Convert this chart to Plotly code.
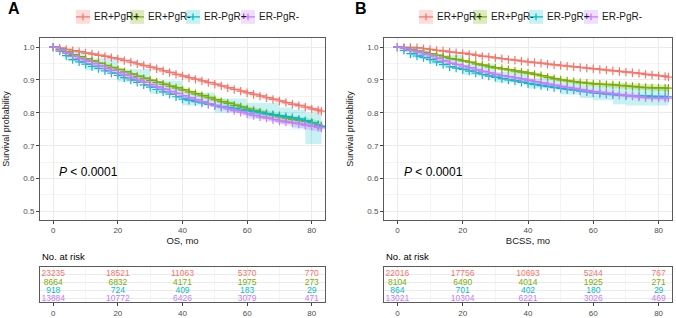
import plotly.graph_objects as go

# ---------------- data ----------------
MONTHS = list(range(0, 83, 2)) + [83]
GROUPS = ["ER+PgR+", "ER+PgR-", "ER-PgR+", "ER-PgR-"]
COLORS = ["#F8766D", "#7CAE00", "#00BFC4", "#C77CFF"]
FILLS = ["rgba(248,118,109,0.25)", "rgba(124,174,0,0.25)",
         "rgba(0,191,196,0.22)", "rgba(199,124,255,0.25)"]

# Panel A: overall survival (OS)
OS_ERpPRp = [1.000, 0.997, 0.993, 0.989, 0.986, 0.982, 0.979, 0.975, 0.972, 0.968, 0.964,
             0.959, 0.954, 0.949, 0.944, 0.939, 0.934, 0.928, 0.923, 0.917, 0.912,
             0.907, 0.902, 0.897, 0.892, 0.887, 0.882, 0.876, 0.871, 0.866, 0.861,
             0.856, 0.851, 0.846, 0.841, 0.836, 0.831, 0.826, 0.822, 0.817, 0.812,
             0.808, 0.805]
OS_ERpPRn = [1.000, 0.993, 0.985, 0.977, 0.971, 0.965, 0.958, 0.951, 0.944, 0.938, 0.932,
             0.925, 0.918, 0.911, 0.905, 0.899, 0.893, 0.887, 0.881, 0.876, 0.870,
             0.864, 0.858, 0.852, 0.846, 0.840, 0.834, 0.829, 0.823, 0.818, 0.812,
             0.807, 0.802, 0.797, 0.792, 0.788, 0.784, 0.780, 0.777, 0.774, 0.770,
             0.764, 0.760]
OS_ERnPRp = [1.000, 0.988, 0.974, 0.962, 0.955, 0.948, 0.941, 0.935, 0.928, 0.921, 0.914,
             0.907, 0.900, 0.893, 0.885, 0.878, 0.871, 0.864, 0.857, 0.849, 0.842,
             0.838, 0.834, 0.830, 0.826, 0.822, 0.819, 0.816, 0.813, 0.809, 0.806,
             0.803, 0.800, 0.797, 0.794, 0.791, 0.788, 0.785, 0.781, 0.776, 0.770,
             0.762, 0.758]
OS_ERnPRn = [1.000, 0.991, 0.981, 0.972, 0.965, 0.958, 0.950, 0.943, 0.935, 0.929, 0.922,
             0.915, 0.907, 0.900, 0.893, 0.886, 0.879, 0.872, 0.865, 0.859, 0.852,
             0.846, 0.840, 0.834, 0.828, 0.822, 0.817, 0.812, 0.807, 0.802, 0.797,
             0.792, 0.788, 0.784, 0.779, 0.775, 0.772, 0.769, 0.766, 0.762, 0.759,
             0.756, 0.754]

# Panel B: breast-cancer-specific survival (BCSS)
BCSS_ERpPRp = [1.000, 0.999, 0.999, 0.998, 0.995, 0.993, 0.990, 0.988, 0.985, 0.983, 0.981,
               0.978, 0.975, 0.972, 0.970, 0.967, 0.965, 0.962, 0.960, 0.957, 0.955,
               0.953, 0.951, 0.948, 0.946, 0.944, 0.942, 0.940, 0.938, 0.936, 0.934,
               0.932, 0.930, 0.928, 0.926, 0.924, 0.922, 0.920, 0.917, 0.915, 0.913,
               0.911, 0.909]
BCSS_ERpPRn = [1.000, 0.997, 0.993, 0.988, 0.984, 0.980, 0.975, 0.970, 0.965, 0.962, 0.958,
               0.954, 0.949, 0.945, 0.940, 0.937, 0.934, 0.931, 0.927, 0.924, 0.921,
               0.917, 0.913, 0.908, 0.904, 0.900, 0.897, 0.895, 0.892, 0.890, 0.888,
               0.887, 0.886, 0.885, 0.883, 0.882, 0.880, 0.878, 0.877, 0.876, 0.876,
               0.875, 0.875]
BCSS_ERnPRp = [1.000, 0.990, 0.980, 0.973, 0.968, 0.962, 0.955, 0.947, 0.940, 0.936, 0.932,
               0.927, 0.921, 0.916, 0.912, 0.908, 0.904, 0.900, 0.897, 0.893, 0.889,
               0.886, 0.883, 0.880, 0.877, 0.874, 0.871, 0.869, 0.866, 0.864, 0.861,
               0.859, 0.857, 0.855, 0.854, 0.852, 0.852, 0.851, 0.851, 0.850, 0.850,
               0.849, 0.849]
BCSS_ERnPRn = [1.000, 0.996, 0.990, 0.985, 0.979, 0.973, 0.966, 0.958, 0.951, 0.947, 0.942,
               0.937, 0.931, 0.926, 0.921, 0.917, 0.913, 0.910, 0.906, 0.903, 0.899,
               0.895, 0.891, 0.887, 0.884, 0.880, 0.877, 0.874, 0.870, 0.867, 0.864,
               0.862, 0.860, 0.858, 0.855, 0.853, 0.851, 0.848, 0.846, 0.846, 0.845,
               0.845, 0.845]

# confidence-band half widths at coarse times
CI_TIMES = [0, 10, 20, 30, 40, 50, 60, 70, 80, 83]
OS_HW_ERpPRp = [0, 0.002, 0.003, 0.003, 0.004, 0.004, 0.005, 0.005, 0.006, 0.007]
OS_HW_ERpPRn = [0, 0.004, 0.005, 0.006, 0.007, 0.008, 0.009, 0.010, 0.012, 0.014]
OS_HW_ERnPRn = [0, 0.003, 0.004, 0.005, 0.006, 0.006, 0.007, 0.008, 0.010, 0.012]
BCSS_HW_ERpPRp = [0, 0.001, 0.002, 0.002, 0.003, 0.003, 0.003, 0.004, 0.004, 0.005]
BCSS_HW_ERpPRn = [0, 0.003, 0.004, 0.005, 0.006, 0.006, 0.007, 0.008, 0.009, 0.010]
BCSS_HW_ERnPRn = [0, 0.003, 0.004, 0.004, 0.005, 0.005, 0.006, 0.007, 0.008, 0.009]

# the small ER-PgR+ group has a wide band, read directly
OS_CI_T_ERnPRp = [0, 4, 10, 20, 30, 40, 50, 60, 70, 74, 78, 83]
OS_LO_ERnPRp = [1.0, 0.958, 0.930, 0.895, 0.858, 0.822, 0.800, 0.782, 0.766, 0.752, 0.705, 0.705]
OS_UP_ERnPRp = [1.0, 0.990, 0.966, 0.933, 0.898, 0.862, 0.844, 0.830, 0.816, 0.810, 0.800, 0.800]
BCSS_CI_T_ERnPRp = [0, 4, 10, 20, 30, 40, 50, 56, 60, 66, 70, 83]
BCSS_LO_ERnPRp = [1.0, 0.968, 0.948, 0.916, 0.892, 0.874, 0.856, 0.845, 0.838, 0.826, 0.822, 0.818]
BCSS_UP_ERnPRp = [1.0, 0.992, 0.976, 0.948, 0.924, 0.905, 0.892, 0.885, 0.882, 0.878, 0.877, 0.877]

# numbers at risk
RISK_TIMES = [0, 20, 40, 60, 80]
OS_RISK = [[23235, 18521, 11063, 5370, 770],
           [8664, 6832, 4171, 1975, 273],
           [918, 724, 409, 183, 29],
           [13884, 10772, 6426, 3079, 471]]
BCSS_RISK = [[22016, 17756, 10693, 5244, 767],
             [8104, 6490, 4014, 1925, 271],
             [864, 701, 402, 180, 29],
             [13021, 10304, 6221, 3026, 469]]

X_TICKS = [0, 20, 40, 60, 80]
Y_TICKS = [0.5, 0.6, 0.7, 0.8, 0.9, 1.0]

# ---------------- figure ----------------
W, H = 676, 318
FONT = "Liberation Sans, Arial, sans-serif"
fig = go.Figure()


def px_x(p):
    return p / W


def px_y(p):
    return 1 - p / H


panels = [
    dict(letter="A", xtitle="OS, mo", xa="x", ya="y", rxa="x2", rya="y2",
         curves=[OS_ERpPRp, OS_ERpPRn, OS_ERnPRp, OS_ERnPRn],
         hws=[OS_HW_ERpPRp, OS_HW_ERpPRn, None, OS_HW_ERnPRn],
         cyan=(OS_CI_T_ERnPRp, OS_LO_ERnPRp, OS_UP_ERnPRp), risk=OS_RISK,
         x0=40, x1=325, keys=[83, 137, 193, 248], letx=14),
    dict(letter="B", xtitle="BCSS, mo", xa="x3", ya="y3", rxa="x4", rya="y4",
         curves=[BCSS_ERpPRp, BCSS_ERpPRn, BCSS_ERnPRp, BCSS_ERnPRn],
         hws=[BCSS_HW_ERpPRp, BCSS_HW_ERpPRn, None, BCSS_HW_ERnPRn],
         cyan=(BCSS_CI_T_ERnPRp, BCSS_LO_ERnPRp, BCSS_UP_ERnPRp), risk=BCSS_RISK,
         x0=384, x1=672, keys=[426, 480, 536, 591], letx=361),
]

XR = [-4.1, 84.1]
YR = [0.475, 1.027]
MAIN_TOP, MAIN_BOT = 38.5, 221
RISK_TOP, RISK_BOT = 269, 304
LEG_Y = 17

for pi, p in enumerate(panels):
    # confidence bands
    for gi in range(4):
        if p["hws"][gi] is not None:
            lookup = dict(zip(MONTHS, p["curves"][gi]))
            lo = [lookup[t] - h for t, h in zip(CI_TIMES, p["hws"][gi])]
            up = [lookup[t] + h for t, h in zip(CI_TIMES, p["hws"][gi])]
            ts, shape = CI_TIMES, "linear"
        else:
            ts, lo, up = p["cyan"]
            shape = "hv"
        fig.add_trace(go.Scatter(x=ts, y=lo, mode="lines", line=dict(width=0, shape=shape),
                                 xaxis=p["xa"], yaxis=p["ya"], showlegend=False, hoverinfo="skip"))
        fig.add_trace(go.Scatter(x=ts, y=up, mode="lines", line=dict(width=0, shape=shape),
                                 fill="tonexty", fillcolor=FILLS[gi],
                                 xaxis=p["xa"], yaxis=p["ya"], showlegend=False, hoverinfo="skip"))
    # curves with censor marks
    for gi in range(4):
        fig.add_trace(go.Scatter(
            x=MONTHS, y=p["curves"][gi], mode="lines+markers", name=GROUPS[gi],
            line=dict(color=COLORS[gi], width=1.5, shape="hv"),
            marker=dict(symbol="cross-thin", size=6, line=dict(color=COLORS[gi], width=1.2)),
            xaxis=p["xa"], yaxis=p["ya"], showlegend=False))
    # risk table
    for gi in range(4):
        fig.add_trace(go.Scatter(
            x=RISK_TIMES, y=[4 - gi] * len(RISK_TIMES), mode="text",
            text=[str(v) for v in p["risk"][gi]],
            textfont=dict(color=COLORS[gi], size=8.5, family=FONT),
            xaxis=p["rxa"], yaxis=p["rya"], showlegend=False, hoverinfo="skip"))

    xd = [px_x(p["x0"]), px_x(p["x1"])]
    axis_common = dict(showline=True, mirror=True, linecolor="#5a5a5a", linewidth=1,
                       ticks="outside", ticklen=3, tickcolor="#444", tickwidth=1,
                       tickfont=dict(size=8, color="#4D4D4D", family=FONT),
                       gridcolor="#EBEBEB", gridwidth=0.8, zeroline=False)
    sfx_main = "" if pi == 0 else "3"
    sfx_risk = "2" if pi == 0 else "4"
    fig.layout["xaxis" + sfx_main] = dict(
        domain=xd, range=XR, tickvals=X_TICKS, anchor="y" + sfx_main,
        minor=dict(tickvals=[10, 30, 50, 70], showgrid=True, gridcolor="#F4F4F4", ticks=""),
        title=dict(text=p["xtitle"], font=dict(size=9.5, color="#1a1a1a", family=FONT), standoff=3),
        **axis_common)
    fig.layout["yaxis" + sfx_main] = dict(
        domain=[px_y(MAIN_BOT), px_y(MAIN_TOP)], range=YR, tickvals=Y_TICKS,
        ticktext=["%.1f" % v for v in Y_TICKS], anchor="x" + sfx_main,
        minor=dict(tickvals=[0.55, 0.65, 0.75, 0.85, 0.95], showgrid=True,
                   gridcolor="#F4F4F4", ticks=""),
        title=dict(text="Survival probability", font=dict(size=9, color="#1a1a1a", family=FONT),
                   standoff=12),
        **axis_common)
    fig.layout["xaxis" + sfx_risk] = dict(
        domain=xd, range=XR, tickvals=X_TICKS, anchor="y" + sfx_risk,
        minor=dict(tickvals=[10, 30, 50, 70], showgrid=True, gridcolor="#F4F4F4", ticks=""),
        **axis_common)
    fig.layout["yaxis" + sfx_risk] = dict(
        domain=[px_y(RISK_BOT), px_y(RISK_TOP)], range=[0.6, 4.85], tickvals=[1, 2, 3, 4],
        showticklabels=False, ticks="", showline=True, mirror=True, linecolor="#5a5a5a",
        linewidth=1, gridcolor="#EBEBEB", gridwidth=0.8, zeroline=False, anchor="x" + sfx_risk)

    # legend keys (ggplot-style: shaded square, line and censor cross)
    for gi, kx in enumerate(p["keys"]):
        fig.add_shape(type="rect", xref="paper", yref="paper",
                      x0=px_x(kx - 7), x1=px_x(kx + 7), y0=px_y(LEG_Y + 7), y1=px_y(LEG_Y - 7),
                      fillcolor=FILLS[gi], line=dict(width=0))
        fig.add_shape(type="line", xref="paper", yref="paper",
                      x0=px_x(kx - 7), x1=px_x(kx + 7), y0=px_y(LEG_Y), y1=px_y(LEG_Y),
                      line=dict(color=COLORS[gi], width=1.3))
        fig.add_shape(type="line", xref="paper", yref="paper",
                      x0=px_x(kx), x1=px_x(kx), y0=px_y(LEG_Y + 3.5), y1=px_y(LEG_Y - 3.5),
                      line=dict(color=COLORS[gi], width=1.3))
        fig.add_annotation(x=px_x(kx + 9), y=px_y(LEG_Y), xref="paper", yref="paper",
                           text=GROUPS[gi], showarrow=False, xanchor="left", yanchor="middle",
                           font=dict(size=10, color="#1a1a1a", family=FONT))

    fig.add_annotation(x=px_x(p["letx"]), y=px_y(9), xref="paper", yref="paper",
                       text="<b>%s</b>" % p["letter"], showarrow=False,
                       xanchor="center", yanchor="middle",
                       font=dict(size=16, color="black", family=FONT))
    fig.add_annotation(x=px_x(p["x0"]), y=px_y(258), xref="paper", yref="paper",
                       text="No. at risk", showarrow=False, xanchor="left", yanchor="middle",
                       font=dict(size=9.5, color="black", family=FONT))
    fig.add_annotation(x=1.3, y=0.62, xref=p["xa"], yref=p["ya"],
                       text="<i>P</i> < 0.0001", showarrow=False, xanchor="left", yanchor="middle",
                       font=dict(size=12, color="black", family=FONT))

fig.update_layout(width=W, height=H, margin=dict(l=0, r=0, t=0, b=0),
                  paper_bgcolor="white", plot_bgcolor="white", showlegend=False,
                  font=dict(family=FONT), hovermode=False)

fig.write_html("out.html", config={"displayModeBar": False},
               post_script="document.body.style.margin='0';")
